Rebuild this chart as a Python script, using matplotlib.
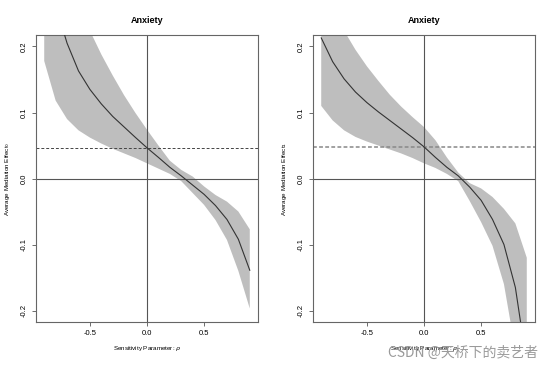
#!/usr/bin/env python3
import matplotlib

matplotlib.use("Agg")
import matplotlib.pyplot as plt

plt.rcParams["font.family"] = ["Liberation Sans", "DejaVu Sans"]

# sensitivity parameter grid
rho = [-0.9, -0.8, -0.7, -0.6, -0.5, -0.4, -0.3, -0.2, -0.1, 0.0,
       0.1, 0.2, 0.3, 0.4, 0.5, 0.6, 0.7, 0.8, 0.9]

# left panel (ACME, treatment = 0)
mean_0 = [0.330, 0.262, 0.205, 0.163, 0.135, 0.113, 0.094, 0.078, 0.062, 0.0465,
          0.032, 0.017, 0.004, -0.010, -0.024, -0.041, -0.062, -0.092, -0.139]
lower_0 = [0.178, 0.118, 0.090, 0.073, 0.062, 0.053, 0.045, 0.038, 0.031, 0.023,
           0.015, 0.007, -0.004, -0.022, -0.040, -0.063, -0.093, -0.140, -0.197]
upper_0 = [0.400, 0.345, 0.300, 0.260, 0.224, 0.188, 0.156, 0.126, 0.099, 0.074,
           0.050, 0.027, 0.013, 0.003, -0.012, -0.025, -0.035, -0.050, -0.077]
estimate_0 = 0.0465

# right panel (ACME, treatment = 1)
mean_1 = [0.213, 0.177, 0.151, 0.131, 0.115, 0.101, 0.088, 0.075, 0.062, 0.048,
          0.032, 0.017, 0.004, -0.013, -0.033, -0.062, -0.100, -0.165, -0.280]
lower_1 = [0.110, 0.088, 0.073, 0.063, 0.056, 0.050, 0.044, 0.038, 0.031, 0.023,
           0.016, 0.007, -0.004, -0.034, -0.066, -0.102, -0.160, -0.260, -0.380]
upper_1 = [0.300, 0.260, 0.224, 0.195, 0.170, 0.148, 0.127, 0.109, 0.093, 0.078,
           0.058, 0.032, 0.009, -0.007, -0.015, -0.028, -0.046, -0.068, -0.120]
estimate_1 = 0.048

x_ticks = [-0.5, 0.0, 0.5]
y_ticks = [-0.2, -0.1, 0.0, 0.1, 0.2]


def draw_panel(ax, mean, lower, upper, estimate, subscript, dash):
    ax.fill_between(rho, lower, upper, color="#bebebe", linewidth=0, zorder=1)
    ax.plot(rho, mean, color="#333333", linewidth=0.8, zorder=3)
    ax.axhline(0, color="#555555", linewidth=0.8, zorder=2)
    ax.axvline(0, color="#555555", linewidth=0.8, zorder=2)
    ax.axhline(estimate, color=dash[0], linewidth=dash[1], linestyle=dash[2], zorder=2)
    ax.set_xlim(-0.972, 0.972)
    ax.set_ylim(-0.2174, 0.2174)
    ax.set_xticks(x_ticks, labels=[f"{t:.1f}" for t in x_ticks])
    ax.set_yticks(y_ticks, labels=[f"{t:.1f}" for t in y_ticks])
    for label in ax.get_yticklabels():
        label.set_rotation(90)
        label.set_va("center")
    ax.tick_params(length=3, width=0.6, labelsize=5.5, pad=3, color="#555555")
    for spine in ax.spines.values():
        spine.set_color("#666666")
        spine.set_linewidth(0.8)
    ax.set_title("Anxiety", fontsize=6.5, fontweight="bold", pad=9)
    ax.set_xlabel(r"Sensitivity Parameter: $\rho$", fontsize=4.5, labelpad=5)
    ax.set_ylabel(f"Average Mediation Effect$_{subscript}$", fontsize=4.5, labelpad=6)


fig = plt.figure(figsize=(5.54, 3.67), dpi=100)
ax_left = fig.add_axes([0.065, 0.1226, 0.4007, 0.782])
ax_right = fig.add_axes([0.565, 0.1226, 0.4007, 0.782])

draw_panel(ax_left, mean_0, lower_0, upper_0, estimate_0, "0", ("#444444", 0.7, (0, (3, 2))))
draw_panel(ax_right, mean_1, lower_1, upper_1, estimate_1, "1", ("#888888", 1.1, (0, (2.5, 1.5))))

fig.text(0.972, 0.04, "CSDN @天桥下的卖艺者", ha="right", va="center", fontsize=10,
         color="#9a9a9a", family=["Noto Sans CJK SC", "DejaVu Sans"])

fig.savefig("out.png", dpi=100)
